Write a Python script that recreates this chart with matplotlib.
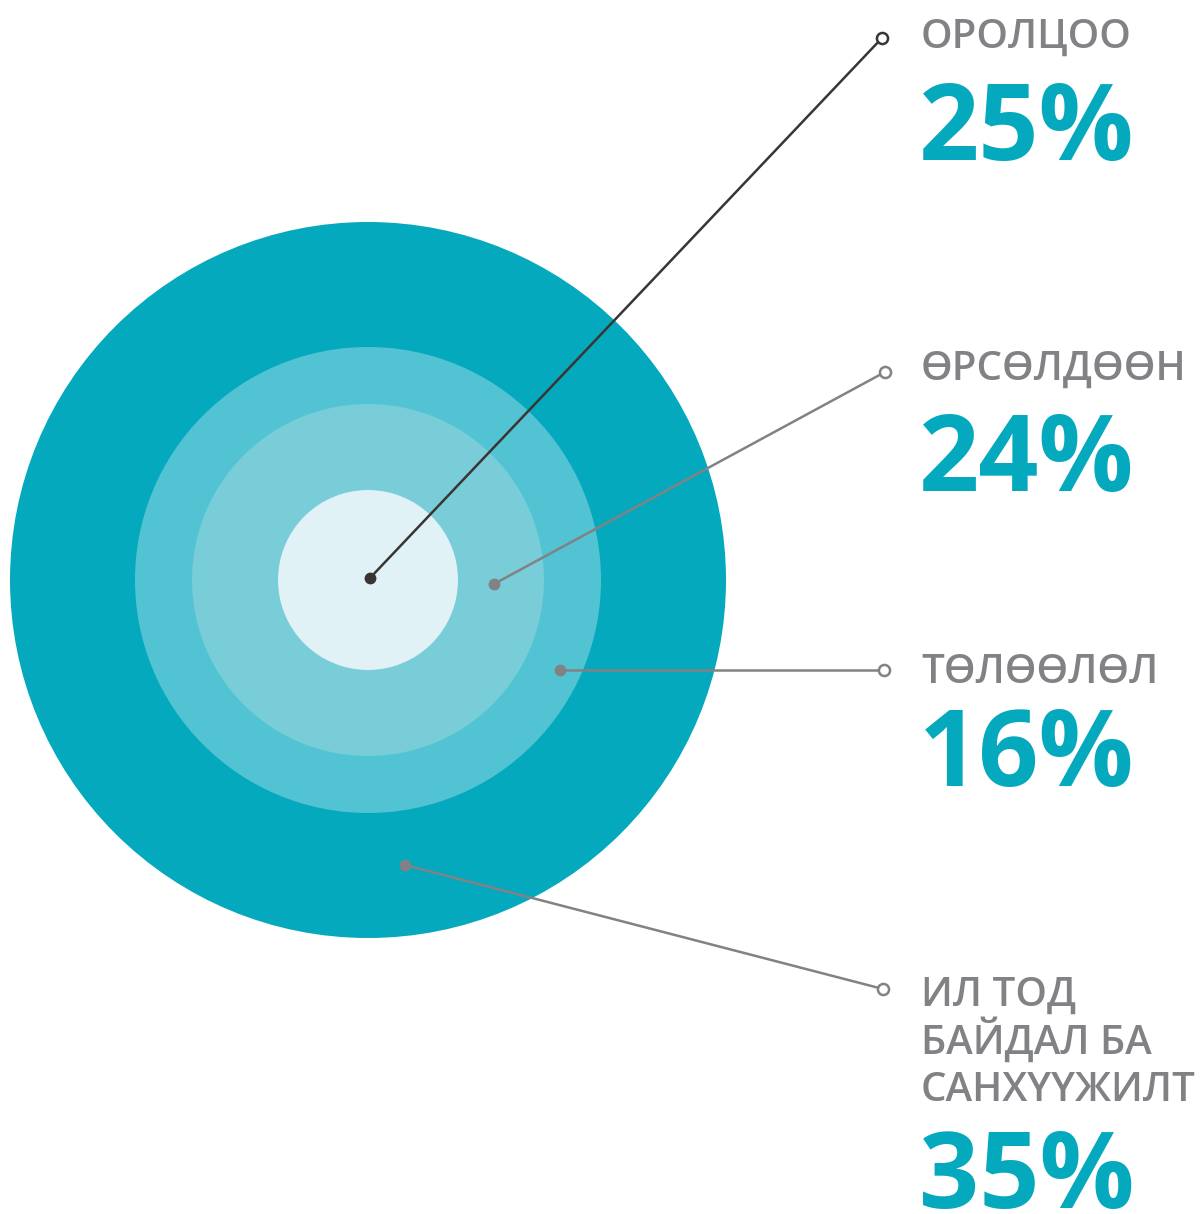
import matplotlib
matplotlib.use("Agg")
import matplotlib.pyplot as plt
from matplotlib.patches import Circle

# ---- data ----
categories = ["ОРОЛЦОО", "ӨРСӨЛДӨӨН", "ТӨЛӨӨЛӨЛ", "ИЛ ТОД\nБАЙДАЛ БА\nСАНХҮҮЖИЛТ"]
values = [25, 24, 16, 35]

# ---- layout / style ----
W, H = 1200, 1214
center = (368, 580)
ring_radii = [358, 233, 176, 90]                    # outer -> inner
ring_colors = ["#04A9BD", "#52C3D2", "#78CDD9", "#E0F2F5"]

# anchor dot (on chart) and end circle (near label) for each category
dot_pos = [(370, 578), (494, 584), (560, 670), (405, 865)]
end_pos = [(882, 38), (885, 372), (884, 670), (883, 989)]
line_colors = ["#3A3533", "#828285", "#828285", "#828285"]
label_base = [48, 380, 683, 1006]       # baseline of first label line
pct_base = [160, 491, 786, 1208]
text_x = 921
label_color = "#808285"
pct_color = "#04A9BD"

fig = plt.figure(figsize=(W / 100, H / 100), dpi=100)
ax = fig.add_axes([0, 0, 1, 1])
ax.set_xlim(0, W)
ax.set_ylim(H, 0)
ax.set_aspect("equal")
ax.axis("off")

for r, c in zip(ring_radii, ring_colors):
    ax.add_patch(Circle(center, r, facecolor=c, edgecolor="none", zorder=1))

for i, (cat, val) in enumerate(zip(categories, values)):
    (x0, y0), (x1, y1) = dot_pos[i], end_pos[i]
    lc = line_colors[i]
    ax.plot([x0, x1], [y0, y1], color=lc, lw=1.8, zorder=3, solid_capstyle="round")
    ax.plot(x0, y0, "o", ms=7.5, color=lc, zorder=4)
    ax.plot(x1, y1, "o", ms=8, mfc="white", mec=lc, mew=1.8, zorder=4)
    lines = cat.split("\n")
    for j, ln in enumerate(lines):
        ax.text(text_x, label_base[i] + j * 47.5, ln, fontsize=29,
                family="Open Sans", fontweight="semibold", color=label_color,
                ha="left", va="baseline", zorder=5)
    ax.text(text_x - 2, pct_base[i], f"{val}%", fontsize=76, family="Open Sans",
            fontweight="bold", color=pct_color, ha="left", va="baseline", zorder=5)

fig.savefig("out.png", dpi=100, facecolor="white")
